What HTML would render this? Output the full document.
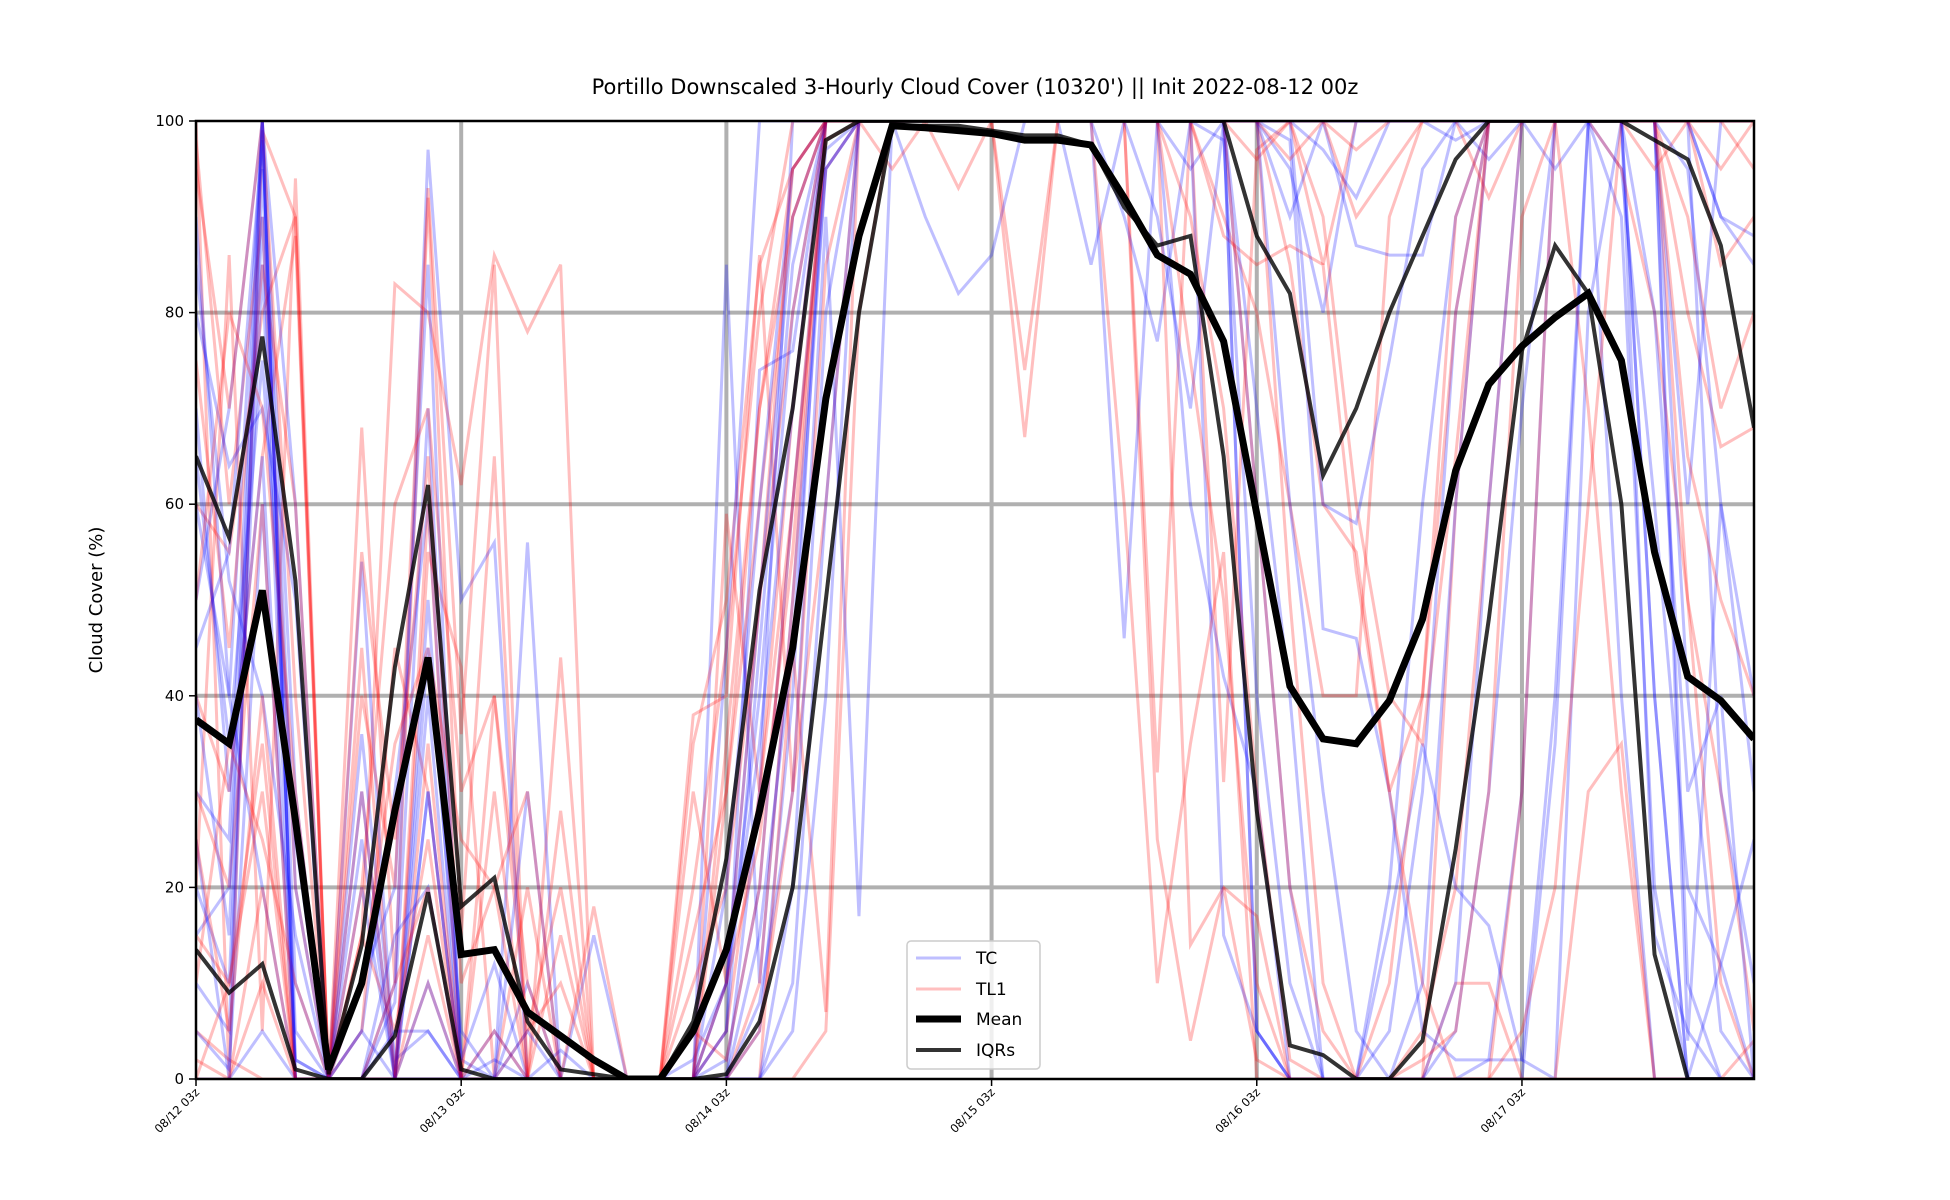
<!DOCTYPE html>
<html><head><meta charset="utf-8"><style>
html,body{margin:0;padding:0;background:#fff;}
svg{display:block;font-family:"DejaVu Sans","Liberation Sans",sans-serif;}
</style></head><body>
<svg id="chart" width="1950" height="1200" viewBox="0 0 1950 1200" xmlns="http://www.w3.org/2000/svg">
<rect width="1950" height="1200" fill="#fff"/>
<text x="975" y="94" text-anchor="middle" font-size="21">Portillo Downscaled 3-Hourly Cloud Cover (10320') || Init 2022-08-12 00z</text>
<text transform="translate(102,600) rotate(-90)" text-anchor="middle" font-size="18">Cloud Cover (%)</text>
<defs><clipPath id="clip"><rect x="196" y="121" width="1558" height="958"/></clipPath></defs>
<g id="grid"></g>
<g id="series" clip-path="url(#clip)"></g>
<rect x="196" y="121" width="1558" height="958" fill="none" stroke="#000" stroke-width="2.5"/>
<g id="ticks"></g>
<g id="legend">
<rect x="907" y="941" width="133" height="128" rx="4" fill="#fff" fill-opacity="0.8" stroke="#ccc" stroke-width="1.5"/>
<line x1="916" y1="958" x2="961" y2="958" stroke="rgba(0,0,255,0.25)" stroke-width="3"/>
<text x="976" y="964" font-size="17">TC</text>
<line x1="916" y1="989" x2="961" y2="989" stroke="rgba(255,0,0,0.25)" stroke-width="3"/>
<text x="976" y="995" font-size="17">TL1</text>
<line x1="916" y1="1019" x2="961" y2="1019" stroke="#000" stroke-width="7"/>
<text x="976" y="1025" font-size="17">Mean</text>
<line x1="916" y1="1050" x2="961" y2="1050" stroke="rgba(0,0,0,0.8)" stroke-width="4"/>
<text x="976" y="1056" font-size="17">IQRs</text>
</g>
</svg>
<script>
const xTickLabels=["08/12 03z","08/13 03z","08/14 03z","08/15 03z","08/16 03z","08/17 03z"];
const yTicks=[0,20,40,60,80,100];
const tcMembers=[
[60,40,100,30,0,5,30,60,2,0,0,0,0,0,0,2,10,40,80,100,100,100,100,100,100,100,100,100,100,100,95,100,60,20,0,0,5,30,80,100,100,100,100,100,40,0,0,0],
[10,5,95,10,0,0,10,97,50,56,0,0,0,0,0,0,85,10,50,95,100,100,90,82,86,100,100,85,100,100,100,100,5,0,0,0,20,60,90,100,100,95,100,100,100,10,0,0],
[80,64,70,50,0,36,2,5,0,0,10,0,15,0,0,0,5,74,76,100,100,100,100,100,100,100,100,100,90,77,100,100,100,98,47,46,30,5,2,2,30,100,100,100,100,100,90,88],
[30,25,100,2,0,0,0,0,0,0,0,0,0,0,0,0,0,30,100,100,100,100,100,100,100,100,100,100,100,100,100,100,100,100,100,87,86,86,100,100,100,100,100,95,60,20,12,0],
[5,1,60,0,0,54,0,30,0,0,56,0,0,0,0,0,0,5,40,100,100,100,100,100,100,100,100,100,100,100,60,42,30,0,0,0,0,0,0,0,0,35,100,100,15,5,0,0],
[90,40,20,0,0,10,20,85,0,2,0,0,0,0,0,0,45,100,100,100,100,100,100,100,100,100,100,100,100,100,100,100,100,95,80,100,100,100,98,100,100,100,100,100,100,60,100,100],
[0,0,5,0,0,0,0,0,0,0,0,0,0,0,0,0,0,0,10,60,100,100,100,100,100,100,100,100,46,100,100,15,5,0,0,0,16,35,20,16,2,0,80,100,100,4,60,40],
[50,70,100,60,0,0,0,50,0,5,0,0,0,0,0,0,10,50,90,100,100,100,100,100,100,100,100,100,100,90,70,100,100,100,97,92,100,100,100,96,100,100,100,100,100,100,90,85],
[20,10,85,0,0,20,0,30,0,0,30,0,0,0,0,0,2,20,60,97,100,100,100,100,100,100,100,100,100,100,100,100,70,40,0,0,0,0,10,60,100,100,100,100,40,0,0,0],
[70,30,65,2,0,0,5,5,0,0,0,0,0,0,0,0,0,8,30,90,17,100,100,100,100,100,100,100,100,100,100,100,100,90,100,100,100,100,100,100,100,100,100,90,20,0,0,0],
[45,55,98,20,0,0,8,70,2,12,0,3,0,0,0,0,20,60,95,100,100,100,100,100,100,100,100,100,100,100,100,100,5,0,0,0,0,0,5,30,70,100,100,100,100,100,30,10],
[15,20,90,5,0,25,0,40,0,0,0,0,0,0,0,0,0,0,20,80,100,100,100,100,100,100,100,100,100,100,100,100,100,60,30,5,0,10,60,100,100,100,100,40,0,0,12,25],
[85,52,40,15,0,0,15,20,0,0,5,0,0,0,0,0,5,45,85,100,100,100,100,100,100,100,100,100,100,100,100,100,100,100,100,100,100,100,100,100,100,100,100,100,100,100,100,100],
[25,0,100,0,0,0,0,10,0,0,0,0,0,0,0,0,0,15,45,95,100,100,100,100,100,100,100,100,100,100,100,98,40,10,0,0,0,0,0,2,2,40,100,100,100,40,5,0],
[65,35,75,25,0,30,0,45,5,0,0,0,0,0,0,0,10,35,70,100,100,100,100,100,100,100,100,100,100,100,100,100,100,100,60,58,75,95,100,100,100,100,100,100,100,95,60,30],
[40,15,100,0,0,5,0,0,0,0,0,0,0,0,0,0,0,0,5,40,100,100,100,100,100,100,100,100,100,100,100,100,100,100,100,100,100,100,100,100,100,100,100,100,80,30,40,0]
];
const tl1Members=[
[98,60,90,20,0,68,10,92,15,65,0,0,0,0,0,0,59,30,60,95,100,100,100,100,100,74,100,100,100,32,100,90,80,60,40,40,90,100,100,100,100,100,100,100,100,80,66,68],
[100,0,99,90,0,15,83,80,62,86,78,85,0,0,0,38,40,86,30,60,100,100,100,100,100,67,100,100,100,25,4,20,2,0,0,0,0,5,20,60,100,100,100,100,100,100,100,100],
[20,86,5,94,0,5,45,30,0,0,0,44,0,0,0,30,10,50,95,100,100,100,100,100,100,100,100,100,100,100,100,31,97,100,85,100,100,100,100,100,100,100,100,100,100,100,100,100],
[5,2,0,0,0,0,0,0,0,0,0,0,0,0,0,0,0,0,0,5,80,100,100,100,100,100,100,100,100,100,14,20,17,0,0,0,0,0,10,10,0,0,0,0,0,0,0,0],
[40,30,65,88,0,0,0,55,43,0,20,0,18,0,0,35,50,85,95,100,100,100,100,100,100,100,100,100,100,100,100,100,100,85,60,55,30,40,90,100,100,100,100,95,80,50,30,5],
[0,0,10,0,0,0,0,0,0,0,0,28,0,0,0,0,0,0,45,7,100,100,100,100,100,100,100,100,100,100,100,100,100,100,100,100,100,100,100,100,100,100,100,100,100,100,100,100],
[60,55,80,90,0,40,20,93,36,85,0,0,0,0,0,0,30,60,90,100,100,100,100,100,100,100,100,100,60,10,35,55,0,0,0,0,0,0,0,0,0,0,30,35,0,0,0,4],
[15,10,35,0,0,0,0,60,0,30,0,0,0,0,0,0,0,10,50,100,100,100,100,100,100,100,100,100,100,100,100,88,85,87,85,53,30,10,0,0,30,100,100,100,100,100,85,90],
[2,0,20,0,0,15,5,25,0,40,5,20,0,0,0,0,5,30,70,100,100,100,100,93,100,100,100,100,100,100,100,100,100,50,10,0,0,0,60,100,100,100,70,30,0,0,0,0],
[30,20,60,0,0,45,0,10,0,0,5,10,0,0,0,10,20,50,80,100,100,95,100,100,100,100,100,100,100,100,100,100,96,100,100,100,100,100,100,92,100,100,100,100,95,100,100,100],
[75,45,85,60,0,20,60,70,30,40,10,0,0,0,0,20,45,80,100,100,100,100,100,100,100,100,100,100,100,100,100,100,60,20,5,0,10,40,80,100,100,100,100,100,100,90,70,80],
[10,35,25,10,0,30,0,15,0,5,0,0,0,0,0,5,2,20,60,98,100,100,100,100,100,100,100,100,100,100,90,70,30,2,0,0,0,2,5,30,90,100,100,100,100,50,10,0],
[95,70,100,40,0,10,35,45,25,20,0,15,0,0,0,0,35,70,90,100,100,100,100,100,100,100,100,100,100,100,100,100,100,100,100,90,95,100,100,100,100,100,100,100,100,100,95,100],
[25,5,40,0,0,0,10,20,0,0,0,0,0,0,0,0,0,5,30,85,100,100,100,100,100,100,100,100,100,100,75,50,10,0,0,0,0,0,0,0,5,20,60,100,100,100,100,95],
[50,80,70,30,0,55,25,65,10,20,30,0,0,0,0,15,30,70,95,100,100,100,100,100,100,100,100,100,100,100,100,100,100,96,100,97,100,100,100,100,100,100,100,100,100,65,50,40],
[0,10,30,0,0,0,0,35,0,0,0,0,0,0,0,0,10,25,55,100,100,100,100,100,100,100,100,100,100,100,100,100,100,100,90,60,40,35,65,100,100,100,100,100,100,100,100,100]
];
const meanValues=[37.5,35,51,27,1,10,28,44,13,13.5,7,4.5,2,0,0,5,13.5,28,45,71,88,99.5,99.3,99,98.7,98,98,97.5,92,86,84,77,59,41,35.5,35,39.5,48,63.5,72.5,76.5,79.5,82,75,55,42,39.5,35.5];
const iqrLower=[13.5,9,12,1,0,0,4.5,19.5,1,0,0,0,0,0,0,0,0.5,6,20,50,80,99.5,99.5,99.5,99,98.5,98.5,97.5,91,87,88,65,28,3.5,2.5,0,0,4,24,48,76,87,82,60,13,0,0,0];
const iqrUpper=[65,56.5,77.5,52,0.5,14,43,62,18,21,6,1,0.5,0,0,6,23,51,70,98,100,100,100,100,100,100,100,100,100,100,100,100,88,82,63,70,80,88,96,100,100,100,100,100,98,96,87,68];

const NS="http://www.w3.org/2000/svg";
const X0=196,X1=1754,Y0=1079,Y1=121,N=48;
const xs=i=>X0+(X1-X0)*i/(N-1);
const ys=v=>Y0-(Y0-Y1)*v/100;
function mk(tag,attrs,parent){const e=document.createElementNS(NS,tag);for(const k in attrs)e.setAttribute(k,attrs[k]);parent.appendChild(e);return e;}
const grid=document.getElementById('grid'),ticks=document.getElementById('ticks'),series=document.getElementById('series');
yTicks.forEach(v=>{
  if(v>0&&v<100){const g=mk('line',{x1:X0,x2:X1,y1:ys(v),y2:ys(v),stroke:'#b0b0b0','stroke-width':4},grid);
  
  }
  const t=mk('line',{x1:X0-7,x2:X0,y1:ys(v),y2:ys(v),stroke:'#000','stroke-width':1.5},ticks);
  
  
  const l=mk('text',{x:X0-12,y:ys(v)+5,'text-anchor':'end','font-size':15},ticks);l.textContent=v;
  
  
});
xTickLabels.forEach((lab,d)=>{
  const x=xs(d*8);
  if(d>0){const g=mk('line',{x1:x,x2:x,y1:Y1,y2:Y0,stroke:'#b0b0b0','stroke-width':4},grid);
  
  }
  const t=mk('line',{x1:x,x2:x,y1:Y0,y2:Y0+7,stroke:'#000','stroke-width':1.5},ticks);
  
  
  const l=mk('text',{transform:`translate(${x+4},${Y0+14}) rotate(-45)`,'text-anchor':'end','font-size':11.5},ticks);l.textContent=lab;
  
  
});
function line(vals,stroke,w,name){
  const p=mk('polyline',{points:vals.map((v,i)=>xs(i)+','+ys(v)).join(' '),fill:'none',stroke:stroke,'stroke-width':w},series);
  
  
}
for(let k=0;k<tcMembers.length;k++){
  line(tcMembers[k],'rgba(0,0,255,0.25)',3,'tc-member-line');
  line(tl1Members[k],'rgba(255,0,0,0.25)',3,'tl1-member-line');
}
line(iqrLower,'rgba(0,0,0,0.8)',4,'iqr-lower-line');
line(iqrUpper,'rgba(0,0,0,0.8)',4,'iqr-upper-line');
line(meanValues,'#000',7,'mean-line');
</script>
</body></html>
